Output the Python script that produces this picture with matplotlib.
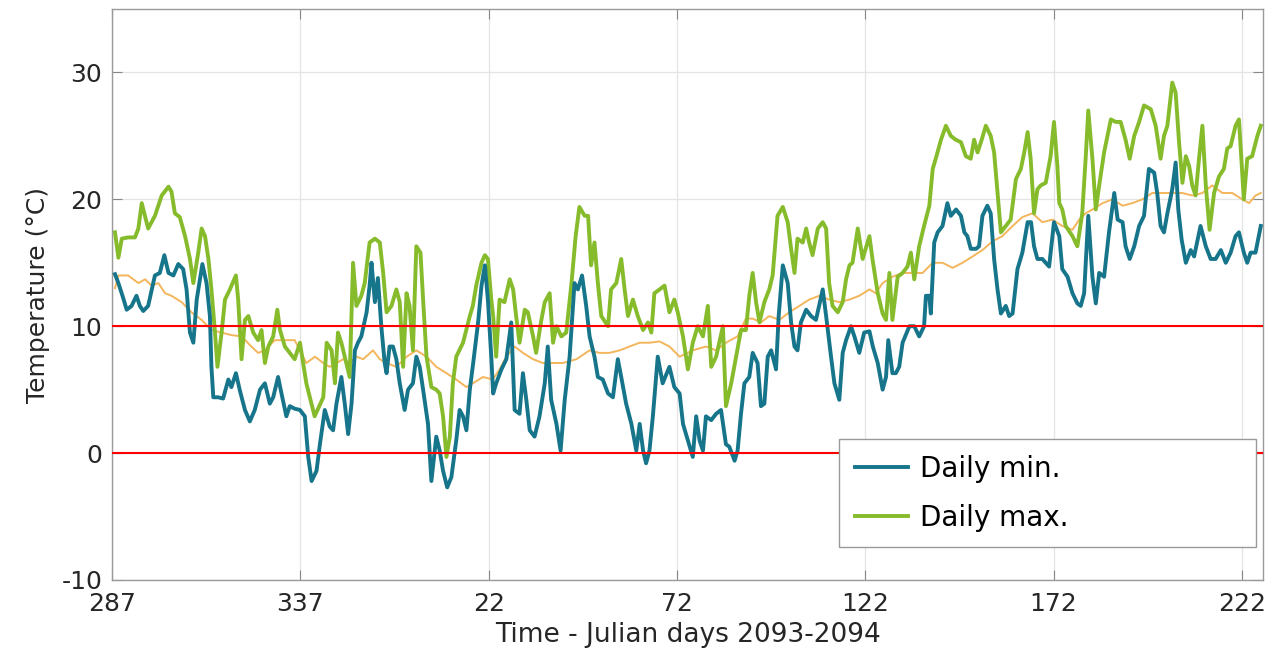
import matplotlib
matplotlib.use("Agg")
import matplotlib.pyplot as plt

plt.rcParams["axes.unicode_minus"] = False

# ---- data (days counted from Julian day 287 of 2093) ----
min_days = [0.8, 1.7, 3.0, 3.9, 5.2, 6.5, 7.4, 8.3, 9.6, 11.4, 12.7, 13.9, 15.0, 16.3, 17.6, 18.9, 19.8, 20.7, 21.6, 22.5,
            24.0, 25.1, 26.0, 26.4, 26.9, 28.2, 29.5, 30.9, 31.7, 32.9, 33.9, 35.3, 36.6, 37.9, 39.3, 40.6, 41.9, 42.8, 44.1, 45.0,
            46.3, 47.2, 48.5, 49.9, 51.2, 52.1, 53.0, 54.3, 55.2, 56.5, 57.8, 58.7, 59.6, 60.9, 61.8, 62.7, 63.6, 64.5, 65.3, 66.2,
            67.6, 68.4, 68.9, 69.8, 70.6, 71.5, 72.4, 72.9, 73.7, 74.6, 75.5, 76.4, 77.7, 78.6, 79.9, 80.8, 81.7, 82.6, 83.9, 84.8,
            86.1, 87.0, 87.9, 89.0, 90.1, 91.4, 92.3, 93.2, 94.1, 95.0, 95.9, 97.2, 98.1, 99.0, 99.8, 100.7, 101.2, 102.0, 103.4, 104.7,
            106.0, 106.9, 108.2, 109.1, 110.0, 110.9, 112.2, 113.5, 114.9, 115.7, 116.6, 118.0, 119.1, 120.2, 121.5, 122.8, 123.7, 124.8, 125.9, 126.8,
            128.1, 129.0, 130.3, 131.7, 133.0, 134.3, 135.2, 136.5, 137.9, 139.2, 140.1, 141.0, 141.8, 142.7, 143.6, 144.9, 146.2, 148.0, 149.3, 150.7,
            151.6, 152.9, 154.2, 155.1, 156.0, 156.9, 157.7, 159.1, 160.4, 161.7, 163.0, 163.9, 165.3, 166.1, 167.0, 167.9, 169.2, 170.1, 171.4, 172.3,
            173.2, 174.1, 175.0, 176.3, 177.0, 178.1, 179.4, 180.3, 181.2, 182.0, 182.9, 184.3, 185.6, 186.9, 188.7, 189.6, 190.9, 191.8, 193.1, 194.0,
            194.9, 196.2, 197.1, 198.4, 199.7, 201.1, 202.0, 203.3, 204.6, 205.5, 206.1, 207.2, 208.1, 209.0, 209.9, 211.7, 213.0, 214.3, 215.6, 216.1,
            217.0, 217.4, 218.3, 219.2, 220.5, 221.8, 222.7, 224.1, 225.4, 226.3, 227.1, 228.0, 229.4, 230.2, 231.1, 232.4, 233.3, 234.2, 235.1, 236.0,
            237.3, 238.2, 239.1, 240.4, 241.7, 243.1, 244.0, 244.8, 245.7, 247.0, 248.8, 250.1, 251.5, 252.3, 253.7, 255.0, 256.3, 257.2, 258.1, 259.2,
            260.3, 261.2, 262.1, 263.4, 264.7, 266.1, 267.0, 268.3, 269.1, 270.2, 271.4, 272.7, 274.0, 275.3, 276.7, 277.5, 278.4, 279.3, 280.2, 281.5,
            282.4, 283.1, 284.0, 285.1, 286.4, 287.3, 289.0, 290.4, 291.7, 293.0, 294.4, 295.7, 297.0, 298.3, 299.2, 300.5, 301.4, 302.3, 303.6, 305.0]
min_vals = [14.1, 13.4, 12.2, 11.3, 11.6, 12.4, 11.6, 11.2, 11.6, 14.0, 14.2, 15.6, 14.2, 14.0, 14.9, 14.5, 12.9, 9.5, 8.7, 12.1,
            14.9, 13.4, 10.8, 6.8, 4.4, 4.4, 4.3, 5.8, 5.2, 6.3, 5.0, 3.4, 2.5, 3.4, 5.0, 5.5, 3.9, 4.4, 6.0, 4.7,
            2.9, 3.7, 3.5, 3.4, 2.9, -0.3, -2.2, -1.4, 0.7, 3.4, 2.1, 1.8, 3.9, 6.0, 3.9, 1.5, 3.9, 8.1, 8.7, 9.2,
            11.1, 13.2, 15.0, 11.9, 13.8, 10.0, 7.1, 6.3, 8.4, 8.4, 7.4, 5.5, 3.4, 5.0, 5.5, 7.6, 6.8, 5.0, 2.3, -2.2,
            1.3, 0.2, -1.4, -2.7, -1.9, 1.0, 3.4, 2.9, 1.8, 5.0, 7.1, 10.3, 13.2, 14.8, 12.1, 7.6, 4.7, 5.5, 6.6, 7.4,
            10.3, 3.4, 3.1, 6.3, 4.2, 1.8, 1.3, 2.9, 5.5, 8.4, 4.2, 2.3, 0.2, 4.2, 7.6, 13.4, 12.9, 14.0, 11.6, 9.2,
            7.6, 6.0, 5.8, 4.7, 4.4, 7.4, 6.0, 3.9, 2.3, 0.2, 2.3, 0.2, -0.8, 0.2, 2.9, 7.6, 5.5, 6.8, 5.2, 4.7,
            2.3, 1.0, -0.3, 2.9, 1.0, 0.2, 2.9, 2.6, 3.1, 3.4, 0.7, 0.5, -0.6, 0.2, 3.1, 5.5, 6.0, 7.9, 7.1, 3.7,
            3.9, 7.6, 8.1, 6.6, 10.8, 14.8, 13.4, 10.3, 8.4, 8.1, 10.3, 11.3, 10.8, 10.5, 12.9, 10.8, 7.6, 5.5, 4.2, 7.9,
            8.9, 10.0, 9.2, 7.9, 9.5, 9.6, 8.4, 7.1, 5.0, 6.0, 8.9, 6.3, 6.3, 6.8, 8.7, 10.0, 10.0, 9.2, 10.0, 12.4,
            12.4, 11.0, 16.6, 17.4, 17.9, 19.7, 18.7, 19.2, 18.7, 17.4, 17.1, 16.1, 16.1, 16.3, 18.7, 19.5, 18.9, 15.3, 12.9, 11.0,
            11.6, 10.8, 11.0, 14.5, 15.8, 18.2, 18.2, 16.3, 15.3, 15.3, 14.7, 18.2, 17.1, 14.5, 13.9, 12.6, 11.8, 11.6, 12.6, 18.7,
            13.9, 11.8, 14.2, 13.9, 17.4, 20.5, 18.4, 18.2, 16.3, 15.3, 16.3, 17.9, 18.7, 22.4, 22.1, 20.5, 17.9, 17.4, 18.9, 20.8,
            22.9, 19.2, 16.8, 15.0, 16.0, 15.5, 17.9, 16.3, 15.3, 15.3, 16.0, 15.0, 15.8, 17.1, 17.4, 15.8, 15.0, 15.8, 15.8, 17.9]

max_days = [0.8, 1.7, 2.6, 4.3, 6.1, 7.0, 7.9, 9.6, 11.4, 13.2, 15.0, 15.8, 16.7, 18.0, 19.4, 20.7, 21.6, 22.9, 23.8, 24.7,
            25.6, 26.4, 27.3, 28.0, 29.1, 30.0, 31.3, 32.9, 33.5, 34.4, 35.3, 36.2, 37.5, 38.8, 39.7, 40.6, 41.5, 42.8, 43.9, 44.6,
            45.9, 47.2, 48.5, 49.9, 51.6, 53.8, 56.1, 57.0, 58.3, 59.2, 60.0, 60.9, 62.2, 63.1, 64.0, 64.9, 66.2, 67.1, 68.4, 69.8,
            71.1, 72.0, 72.9, 74.2, 75.5, 76.4, 77.3, 78.2, 79.0, 79.9, 80.8, 81.9, 82.6, 83.5, 84.8, 86.1, 87.0, 87.9, 88.8, 89.7,
            90.5, 91.4, 93.2, 95.0, 95.8, 96.7, 98.1, 99.0, 99.8, 100.7, 101.2, 102.0, 102.9, 104.2, 105.6, 106.5, 107.3, 108.2, 109.6, 110.4,
            111.8, 112.6, 114.0, 114.9, 116.2, 117.1, 118.0, 119.3, 120.6, 122.0, 123.1, 124.1, 125.5, 126.4, 127.2, 128.1, 129.0, 129.9, 131.7, 132.5,
            133.9, 135.2, 136.1, 137.0, 138.3, 139.6, 141.0, 142.3, 143.2, 144.0, 145.4, 146.7, 148.0, 149.3, 150.2, 151.6, 152.9, 154.2, 155.5, 156.9,
            158.2, 159.1, 160.4, 162.2, 163.0, 164.4, 165.7, 167.0, 168.3, 169.2, 170.1, 171.0, 171.9, 173.2, 174.5, 175.4, 176.7, 178.1, 179.4, 180.3,
            181.2, 182.0, 183.4, 184.3, 185.1, 186.0, 187.4, 188.7, 189.6, 190.4, 191.3, 192.7, 194.0, 194.9, 195.8, 196.6, 198.0, 199.3, 201.1, 201.9,
            203.3, 204.6, 205.5, 206.4, 207.2, 208.6, 209.9, 211.2, 212.1, 213.0, 214.3, 215.6, 217.0, 217.9, 218.7, 220.1, 221.4, 222.7, 224.0, 225.4,
            226.7, 228.0, 228.9, 229.8, 230.7, 232.0, 233.3, 234.2, 235.1, 236.0, 237.3, 238.6, 240.0, 241.3, 242.2, 243.1, 243.9, 244.8, 245.7, 246.6,
            247.9, 249.2, 250.1, 251.0, 251.5, 252.3, 253.2, 255.0, 256.3, 257.6, 258.5, 259.2, 260.3, 261.2, 262.1, 263.4, 265.2, 266.5, 267.8, 269.1,
            270.2, 271.4, 272.7, 274.0, 275.8, 277.1, 278.4, 279.3, 280.2, 281.5, 282.4, 283.3, 284.2, 285.1, 286.0, 286.8, 287.7, 288.6, 289.5, 290.4,
            291.4, 292.6, 293.9, 295.2, 296.1, 297.0, 298.3, 299.2, 300.5, 301.4, 302.7, 304.1, 305.0]
max_vals = [17.4, 15.4, 16.9, 17.0, 17.0, 17.7, 19.7, 17.7, 18.7, 20.3, 21.0, 20.6, 18.9, 18.6, 17.1, 15.3, 13.4, 15.8, 17.7, 17.1,
            15.3, 12.9, 9.7, 6.8, 9.5, 12.1, 12.9, 14.0, 12.1, 7.4, 10.5, 10.8, 9.5, 8.9, 9.7, 7.1, 8.4, 9.2, 11.3, 9.7,
            8.4, 7.9, 7.4, 8.7, 5.5, 2.9, 4.4, 8.7, 8.1, 5.5, 9.5, 8.7, 7.1, 6.0, 15.0, 11.6, 12.4, 13.4, 16.6, 16.9,
            16.6, 14.2, 11.1, 11.6, 12.9, 11.9, 6.8, 12.6, 11.6, 8.1, 16.3, 15.8, 12.1, 7.6, 5.2, 5.0, 4.7, 2.9, -0.3, 1.3,
            5.5, 7.6, 8.7, 10.8, 11.6, 13.2, 15.0, 15.6, 15.3, 12.1, 10.8, 7.6, 12.1, 11.9, 13.7, 12.9, 10.8, 8.7, 11.3, 11.1,
            9.2, 7.9, 10.5, 11.9, 12.6, 8.7, 10.0, 9.2, 9.5, 13.4, 17.1, 19.4, 18.7, 18.7, 14.8, 16.6, 13.4, 10.8, 10.0, 12.9,
            13.4, 15.3, 12.9, 10.8, 12.1, 10.8, 9.7, 10.3, 9.5, 12.6, 12.9, 13.2, 11.1, 12.1, 11.1, 9.2, 6.6, 8.7, 10.0, 9.2,
            11.6, 6.8, 7.6, 10.0, 3.7, 5.5, 7.6, 9.7, 9.7, 12.4, 14.2, 11.9, 10.3, 11.9, 12.9, 14.0, 18.7, 19.4, 18.2, 16.1,
            14.2, 16.9, 16.6, 17.7, 16.6, 15.6, 17.7, 18.2, 17.7, 13.4, 11.6, 11.1, 11.9, 13.7, 14.8, 15.0, 17.7, 15.3, 17.1, 15.3,
            12.6, 11.0, 10.5, 14.2, 10.5, 13.9, 14.2, 14.7, 15.8, 13.7, 16.3, 17.9, 19.5, 22.4, 23.2, 24.7, 25.8, 25.0, 24.7, 24.5,
            23.4, 23.2, 24.7, 23.7, 24.5, 25.8, 25.0, 23.7, 20.5, 17.4, 17.9, 18.4, 21.6, 22.4, 23.7, 25.3, 23.2, 18.9, 20.8, 21.1,
            21.3, 23.4, 26.1, 22.6, 19.7, 19.2, 17.9, 17.1, 16.3, 18.9, 23.2, 27.0, 23.2, 19.2, 21.1, 23.7, 26.3, 26.1, 26.1, 24.7,
            23.2, 25.0, 26.1, 27.4, 27.1, 25.8, 23.2, 25.0, 25.8, 29.2, 28.4, 24.5, 21.3, 23.4, 22.6, 21.1, 20.3, 23.2, 25.8, 21.1,
            17.6, 20.5, 21.8, 22.4, 24.0, 24.2, 25.8, 26.3, 20.0, 23.2, 23.4, 25.0, 25.8]

mean_days = [0.8, 1.7, 4.3, 7.0, 8.8, 10.5, 12.3, 14.1, 15.8, 18.5, 21.1, 23.8, 26.4, 29.1, 31.7, 34.4, 37.0, 38.8, 40.6, 43.2,
             45.9, 48.5, 49.9, 51.6, 53.9, 56.1, 57.8, 59.6, 61.4, 63.1, 64.9, 66.7, 69.3, 71.1, 72.9, 75.5, 78.2, 80.8, 83.5, 86.1,
             88.8, 91.4, 94.1, 95.8, 98.5, 101.1, 102.9, 104.7, 106.9, 109.1, 111.8, 114.4, 117.1, 119.7, 123.3, 126.8, 129.4, 132.1, 134.8, 137.4,
             140.1, 142.7, 145.4, 148.0, 150.7, 154.2, 157.7, 160.4, 163.0, 166.1, 168.3, 170.1, 172.3, 174.5, 177.2, 179.8, 182.5, 185.1, 187.8, 190.4,
             193.1, 195.8, 198.4, 201.1, 202.8, 204.6, 207.2, 209.9, 212.6, 215.2, 217.9, 220.5, 223.2, 225.8, 228.5, 231.1, 233.8, 236.4, 239.1, 241.7,
             244.4, 247.0, 249.7, 252.3, 255.0, 256.8, 258.5, 260.3, 263.0, 265.6, 268.3, 270.9, 273.6, 276.2, 278.9, 281.5, 284.2, 286.8, 289.5, 292.1,
             294.8, 297.4, 300.1, 301.9, 303.6, 305.0]
mean_vals = [13.0, 14.0, 14.0, 13.4, 13.7, 13.2, 13.4, 12.6, 12.4, 11.9, 11.1, 10.5, 9.7, 9.5, 9.3, 9.2, 8.4, 7.9, 8.1, 8.9,
             8.9, 8.9, 8.1, 7.1, 7.6, 7.1, 6.8, 7.1, 7.4, 7.1, 7.6, 7.4, 8.1, 7.4, 7.1, 6.8, 7.6, 8.1, 7.6, 6.8,
             6.3, 5.8, 5.2, 5.5, 6.0, 5.8, 6.6, 7.6, 8.4, 7.9, 7.4, 7.1, 7.1, 7.1, 7.4, 8.1, 7.9, 7.9, 8.1, 8.4,
             8.7, 8.7, 8.8, 8.4, 7.6, 8.1, 8.4, 8.1, 8.7, 9.2, 10.6, 10.6, 10.3, 10.8, 10.5, 11.1, 11.6, 12.1, 12.4, 12.1,
             11.9, 12.1, 12.4, 12.9, 12.6, 13.4, 13.9, 14.2, 14.2, 14.2, 15.0, 15.0, 14.6, 15.0, 15.5, 16.0, 16.7, 17.1, 17.9, 18.6,
             18.9, 18.2, 18.4, 17.9, 17.6, 18.4, 18.9, 19.2, 19.7, 20.0, 19.5, 19.7, 20.0, 20.5, 20.5, 20.5, 20.5, 20.3, 20.5, 21.1,
             20.5, 20.5, 20.0, 19.7, 20.3, 20.5]

threshold_levels = [0, 10]
tick_julian = [287, 337, 22, 72, 122, 172, 222]
start_julian = 287
y_ticks = [-10, 0, 10, 20, 30]
labels = ["Daily min.", "Daily max."]

# ---- figure ----
fig = plt.figure(figsize=(12.74, 6.53), dpi=100)
ax = fig.add_axes([0.0879, 0.1118, 0.9035, 0.8744])

blue = "#16758a"
green = "#86bb2c"
orange = "#f2ae4a"

ax.plot(mean_days, mean_vals, color=orange, lw=1.4, alpha=0.9, zorder=3)
l_max, = ax.plot(max_days, max_vals, color=green, lw=2.8, zorder=4, solid_joinstyle="round")
l_min, = ax.plot(min_days, min_vals, color=blue, lw=2.8, zorder=5, solid_joinstyle="round")
for lev in threshold_levels:
    ax.axhline(lev, color="red", lw=1.5, zorder=6)

ax.set_xlim(0, 305.6)
ax.set_ylim(-10, 35)
tick_pos = [(j - start_julian) % 365 for j in tick_julian]
ax.set_xticks(tick_pos)
ax.set_xticklabels([str(j) for j in tick_julian])
ax.set_yticks(y_ticks)
ax.grid(True, color="#e4e4e4", lw=0.9)
ax.set_axisbelow(True)
ax.tick_params(direction="in", length=7, width=0.8, color="#888888",
               top=True, right=True, labelsize=18, labelcolor="#262626")
ax.tick_params(axis="x", pad=9)
ax.tick_params(axis="y", pad=7)
for s in ax.spines.values():
    s.set_color("#9a9a9a")
    s.set_linewidth(1.0)

ax.set_xlabel("Time - Julian days 2093-2094", fontsize=19, color="#262626", labelpad=4)
ax.set_ylabel("Temperature (°C)", fontsize=18, color="#262626", labelpad=8)

leg = ax.legend([l_min, l_max], labels, loc="lower left",
                bbox_to_anchor=(0.632, 0.058, 0.362, 0.185), mode="expand",
                fontsize=20, frameon=True, fancybox=False, framealpha=1,
                edgecolor="#999999", handlelength=1.9, handletextpad=0.45,
                labelspacing=0.75, borderpad=0.55, borderaxespad=0)
leg.get_frame().set_linewidth(1.0)
leg.set_zorder(10)

fig.savefig("out.png", dpi=100)
